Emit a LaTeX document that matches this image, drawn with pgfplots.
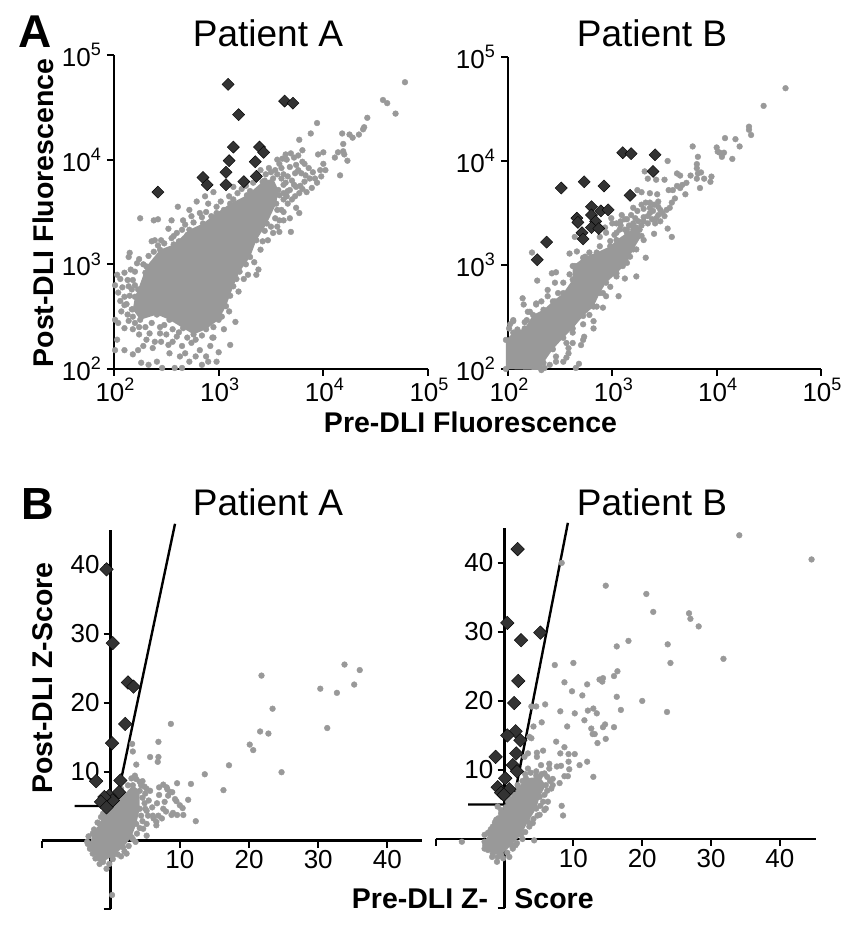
\documentclass[border=0pt]{standalone}
\usepackage{pgfplots}
\pgfplotsset{compat=1.18}
\usepackage{pgfplotstable}
\usepackage{fontspec}
\setmainfont{Liberation Sans}
\definecolor{ptgray}{HTML}{999999}
\definecolor{dia}{HTML}{333333}
\newcommand\ex[1]{10\raisebox{0.42em}{\fontsize{18}{18}\selectfont #1}}
\pgfplotstableread[row sep=\\]{x y\\
2.23 2.76\\ 2.31 2.98\\ 2.44 3.14\\ 2.57 3.19\\ 2.72 3.33\\ 2.85 3.39\\ 2.98 3.49\\ 3.11 3.58\\ 3.27 3.66\\ 3.42 3.79\\ 3.52 3.82\\ 3.57 3.71\\ 3.55 3.58\\ 3.46 3.39\\ 3.36 3.23\\ 3.30 3.07\\ 3.20 2.93\\ 3.14 2.79\\ 3.07 2.60\\ 3.00 2.47\\ 2.88 2.38\\ 2.76 2.33\\ 2.66 2.39\\ 2.53 2.47\\ 2.41 2.52\\ 2.25 2.47\\ 2.18 2.57\\ 2.20 2.69\\
}\coreAA
\pgfplotstableread[row sep=\\]{x y\\
4.78 4.74\\ 4.57 4.57\\ 4.61 4.54\\ 4.69 4.44\\ 4.42 4.40\\ 4.39 4.31\\ 4.38 4.29\\ 4.34 4.24\\ 4.25 4.24\\ 4.28 4.21\\ 4.18 4.25\\ 4.19 4.15\\ 4.19 4.08\\ 4.14 4.07\\ 4.20 4.05\\ 4.23 3.99\\ 4.11 4.02\\ 4.16 3.85\\ 4.00 4.07\\ 3.95 4.05\\ 4.00 3.96\\ 3.97 3.90\\ 4.02 3.90\\ 3.98 3.84\\ 3.94 4.35\\ 3.88 4.25\\ 3.77 4.19\\ 3.80 4.09\\ 3.76 4.04\\ 3.69 4.06\\ 3.61 4.01\\ 3.56 4.00\\ 3.65 4.00\\ 3.82 3.96\\ 3.74 3.95\\ 3.68 3.93\\ 3.60 3.92\\ 3.54 3.90\\ 3.73 3.87\\ 3.79 3.87\\ 3.87 3.82\\ 3.92 3.82\\ 3.82 3.79\\ 3.74 3.74\\ 3.89 3.73\\ 3.68 3.71\\ 3.84 3.69\\ 3.77 3.68\\ 3.73 3.65\\ 3.65 3.65\\ 3.74 3.54\\ 3.77 3.49\\ 3.60 3.52\\ 3.68 3.44\\ 3.62 3.42\\ 3.69 3.31\\ 3.58 3.31\\ 3.52 3.30\\ 3.47 3.23\\ 3.38 2.95\\ 3.28 2.90\\ 3.36 2.90\\ 3.16 2.45\\ 3.11 2.23\\ 3.00 2.16\\ 2.98 2.07\\
2.25 3.44\\ 2.38 3.42\\ 2.42 3.43\\ 2.55 3.42\\ 2.61 3.55\\ 2.72 3.52\\ 2.79 3.60\\ 2.87 3.65\\ 2.95 3.69\\ 3.14 3.74\\ 2.14 3.07\\ 2.15 3.11\\ 2.36 3.22\\ 2.39 3.23\\ 2.45 3.23\\ 2.52 3.34\\ 2.57 3.27\\ 2.66 3.42\\ 2.65 3.33\\ 2.74 3.46\\ 2.82 3.49\\ 2.90 3.58\\
2.03 2.90\\ 2.01 2.80\\ 2.10 2.92\\ 2.04 2.73\\ 2.01 2.47\\ 2.04 2.44\\ 2.10 2.39\\ 2.18 2.38\\ 2.03 2.28\\ 2.01 2.18\\ 2.10 2.18\\ 2.18 2.14\\ 2.23 2.18\\ 2.28 2.22\\ 2.26 2.06\\ 2.33 2.04\\ 2.46 2.01\\ 2.58 2.01\\ 2.65 2.01\\ 2.41 2.07\\ 2.53 2.15\\ 2.63 2.12\\ 2.72 2.07\\ 2.84 2.04\\ 2.90 2.07\\ 2.82 2.18\\ 2.92 2.22\\ 2.74 2.25\\ 2.65 2.22\\ 2.52 2.23\\ 2.39 2.26\\ 2.31 2.28\\ 2.44 2.34\\ 2.60 2.31\\ 2.10 2.69\\ 2.22 3.01\\ 2.20 2.93\\ 2.28 3.00\\ 2.18 2.85\\ 2.14 2.79\\ 2.06 2.65\\ 2.10 2.61\\ 2.18 2.50\\ 2.17 2.57\\
2.16 2.95\\ 2.24 3.05\\ 2.30 2.92\\ 2.33 3.08\\ 2.38 3.12\\ 2.42 3.18\\ 2.48 3.20\\ 2.50 3.10\\ 2.55 3.25\\ 2.60 3.30\\ 2.62 3.22\\ 2.68 3.38\\ 2.70 3.28\\ 2.76 3.40\\ 2.78 3.32\\ 2.84 3.45\\ 2.88 3.50\\ 2.93 3.46\\ 2.98 3.55\\ 3.02 3.60\\ 3.05 3.52\\ 3.10 3.65\\ 3.14 3.62\\ 3.18 3.68\\ 3.22 3.72\\ 3.26 3.75\\ 3.30 3.70\\ 3.33 3.78\\ 3.38 3.84\\ 3.45 3.86\\ 3.50 3.88\\ 3.56 3.86\\ 3.60 3.82\\ 3.62 3.76\\ 3.58 3.66\\ 3.62 3.62\\ 3.56 3.52\\ 3.54 3.44\\ 3.50 3.36\\ 3.44 3.32\\ 3.42 3.22\\ 3.40 3.14\\ 3.34 3.02\\ 3.26 3.00\\ 3.24 2.86\\ 3.17 2.86\\ 3.19 2.74\\ 3.11 2.70\\ 3.10 2.55\\ 3.03 2.50\\ 3.05 2.38\\ 2.95 2.40\\ 2.94 2.30\\ 2.84 2.32\\ 2.78 2.28\\ 2.70 2.30\\ 2.62 2.35\\ 2.56 2.38\\ 2.48 2.42\\ 2.44 2.40\\ 2.36 2.44\\ 2.30 2.40\\ 2.24 2.40\\ 2.20 2.44\\ 2.13 2.52\\ 2.12 2.62\\ 2.15 2.70\\ 2.17 2.76\\ 2.13 2.85\\ 2.20 2.80\\ 2.06 2.86\\ 2.08 2.78\\ 2.07 2.55\\ 2.14 2.46\\ 2.24 2.33\\ 2.34 2.34\\ 2.37 2.20\\ 2.45 2.26\\ 2.50 2.33\\ 2.56 2.26\\ 2.68 2.15\\ 2.78 2.12\\ 2.88 2.12\\ 2.95 2.30\\
3.40 3.90\\ 3.44 3.80\\ 3.48 3.92\\ 3.58 3.96\\ 3.62 3.86\\ 3.66 3.84\\ 3.64 3.78\\ 3.70 3.80\\ 3.72 3.76\\ 3.66 3.70\\ 3.62 3.68\\ 3.70 3.62\\ 3.66 3.58\\ 3.62 3.50\\ 3.58 3.42\\ 3.56 3.36\\ 3.78 3.75\\ 3.80 3.72\\ 3.76 3.90\\ 3.83 3.85\\ 3.86 3.92\\ 3.90 3.88\\ 3.94 3.78\\ 3.80 3.98\\ 3.72 4.02\\ 3.64 4.05\\
}\grayAA
\pgfplotstableread[row sep=\\]{x y\\
2.42 3.69\\ 2.85 3.83\\ 2.89 3.76\\ 3.07 3.76\\ 3.07 3.88\\ 3.10 3.99\\ 3.14 4.12\\ 3.09 4.72\\ 3.19 4.43\\ 3.24 3.79\\ 3.36 3.84\\ 3.35 3.98\\ 3.39 4.12\\ 3.43 4.07\\ 3.63 4.56\\ 3.71 4.54\\
}\diaAA
\pgfplotstableread[row sep=\\]{x y\\
1.98 2.00\\ 1.98 2.28\\ 2.05 2.35\\ 2.16 2.39\\ 2.24 2.52\\ 2.34 2.57\\ 2.43 2.65\\ 2.53 2.73\\ 2.62 2.86\\ 2.62 2.99\\ 2.74 3.08\\ 2.85 3.12\\ 2.98 3.18\\ 3.04 3.24\\ 3.14 3.31\\ 3.23 3.36\\ 3.28 3.28\\ 3.20 3.15\\ 3.14 3.02\\ 3.04 2.92\\ 2.94 2.83\\ 2.88 2.73\\ 2.82 2.60\\ 2.72 2.51\\ 2.62 2.39\\ 2.53 2.30\\ 2.43 2.19\\ 2.34 2.06\\ 2.32 1.99\\
}\coreAB
\pgfplotstableread[row sep=\\]{x y\\
4.66 4.70\\ 4.45 4.53\\ 4.31 4.33\\ 4.31 4.30\\ 4.33 4.25\\ 4.08 4.22\\ 4.18 4.21\\ 4.22 4.14\\ 4.00 4.13\\ 4.01 4.09\\ 4.03 4.08\\ 4.07 4.08\\ 4.05 4.04\\ 4.15 4.02\\ 3.77 4.14\\ 3.82 4.04\\ 3.81 3.97\\ 3.81 3.93\\ 3.82 3.88\\ 3.85 3.89\\ 3.95 3.85\\ 3.94 3.80\\ 3.88 3.83\\ 3.81 3.83\\ 3.84 3.74\\ 3.53 4.00\\ 3.31 3.90\\ 3.34 3.83\\ 3.42 3.82\\ 3.50 3.82\\ 3.62 3.88\\ 3.65 3.86\\ 3.75 3.86\\ 3.71 3.79\\ 3.67 3.77\\ 3.62 3.76\\ 3.54 3.72\\ 3.58 3.72\\ 3.65 3.74\\ 3.70 3.68\\ 3.60 3.64\\ 3.57 3.60\\ 3.24 3.72\\ 3.28 3.70\\ 3.36 3.69\\ 3.43 3.68\\ 3.36 3.60\\ 3.44 3.61\\ 3.20 3.55\\ 3.30 3.54\\ 3.09 3.48\\ 3.55 3.55\\ 3.52 3.53\\ 3.46 3.53\\ 3.39 3.52\\ 3.36 3.50\\ 3.34 3.47\\ 3.42 3.45\\ 3.50 3.47\\ 3.41 3.40\\ 3.30 3.42\\ 3.22 3.45\\ 3.14 3.44\\ 2.99 3.45\\ 3.00 3.40\\ 3.53 3.35\\ 3.57 3.27\\ 3.40 3.30\\ 3.20 3.34\\ 3.26 3.34\\ 3.14 3.34\\ 2.93 3.36\\ 2.94 3.31\\ 3.02 3.29\\ 3.07 3.34\\ 2.64 3.27\\ 2.88 3.27\\ 3.32 3.07\\ 3.23 2.89\\ 3.12 2.87\\ 3.06 2.70\\ 2.85 3.08\\ 2.66 3.13\\ 2.59 3.11\\ 2.23 3.12\\ 2.28 2.85\\ 2.42 2.92\\ 2.46 2.93\\ 2.45 2.83\\ 2.38 2.76\\ 2.14 2.68\\ 2.15 2.62\\ 2.19 2.55\\ 2.27 2.63\\ 2.05 2.46\\ 2.01 2.39\\ 2.16 2.45\\ 2.94 2.70\\ 2.91 2.59\\ 2.82 2.46\\ 2.82 2.39\\ 2.73 2.31\\ 2.72 2.28\\ 2.70 2.23\\ 2.62 2.25\\ 2.58 2.20\\ 2.58 2.15\\ 2.56 2.11\\ 2.68 2.05\\ 2.65 2.01\\ 2.53 2.07\\ 2.46 2.07\\
2.02 2.43\\ 2.05 2.47\\ 2.09 2.38\\ 2.13 2.35\\ 2.18 2.47\\ 2.21 2.55\\ 2.27 2.62\\ 2.32 2.65\\ 2.38 2.70\\ 2.45 2.65\\ 2.48 2.73\\ 2.53 2.83\\ 2.59 2.91\\ 2.64 2.99\\ 2.72 3.07\\ 2.78 3.12\\ 2.88 3.18\\ 2.98 3.23\\ 3.04 3.31\\ 3.12 3.34\\ 3.20 3.37\\ 3.26 3.34\\ 3.30 3.24\\ 3.23 3.15\\ 3.17 3.08\\ 3.10 2.99\\ 3.04 2.89\\ 2.98 2.79\\ 2.91 2.73\\ 2.85 2.60\\ 2.78 2.52\\ 2.72 2.43\\ 2.62 2.35\\ 2.56 2.25\\ 2.46 2.12\\ 2.40 2.04\\ 2.35 2.01\\ 3.20 3.40\\ 3.25 3.42\\ 3.30 3.46\\ 3.34 3.40\\ 3.38 3.44\\ 3.44 3.48\\ 3.46 3.42\\ 3.48 3.50\\ 3.44 3.56\\ 3.40 3.58\\ 3.36 3.55\\ 3.32 3.60\\ 3.28 3.58\\ 3.24 3.52\\ 3.18 3.48\\ 3.12 3.44\\ 3.08 3.38\\ 3.04 3.40\\ 3.08 3.42\\ 3.16 3.38\\ 3.28 3.38\\
}\grayAB
\pgfplotstableread[row sep=\\]{x y\\
2.28 3.05\\ 2.37 3.22\\ 2.51 3.74\\ 2.73 3.80\\ 2.92 3.76\\ 2.66 3.45\\ 2.67 3.41\\ 2.80 3.56\\ 2.80 3.48\\ 2.89 3.52\\ 2.96 3.53\\ 2.84 3.42\\ 2.80 3.36\\ 2.87 3.35\\ 2.71 3.31\\ 2.72 3.25\\ 3.10 4.08\\ 3.18 4.07\\ 3.41 4.06\\ 3.39 3.90\\ 3.17 3.67\\
}\diaAB
\pgfplotstableread[row sep=\\]{x y\\
-2.6 1.0\\ -1.6 2.4\\ -1.1 3.9\\ 0.3 5.3\\ 1.8 6.5\\ 3.2 8.0\\ 4.2 7.2\\ 4.2 4.6\\ 3.7 2.4\\ 3.0 0.5\\ 1.8 -1.0\\ 0.3 -2.2\\ -1.1 -3.1\\ -2.6 -1.9\\ -3.0 -0.5\\
}\coreBA
\pgfplotstableread[row sep=\\]{x y\\
33.8 25.5\\ 36.0 24.7\\ 35.2 22.6\\ 30.3 22.0\\ 32.7 21.4\\ 31.3 16.3\\ 21.8 23.9\\ 23.4 19.1\\ 21.6 15.8\\ 22.8 15.5\\ 20.1 13.9\\ 20.6 13.1\\ 24.7 9.9\\ 17.1 10.9\\ 16.3 7.3\\ 13.6 9.6\\ 8.7 16.9\\ 6.9 14.3\\ 6.9 12.1\\ 6.8 11.4\\ 5.7 12.1\\ 3.1 14.0\\ 3.2 12.9\\ 3.7 11.0\\ 3.5 9.4\\ 11.6 8.2\\ 9.6 8.3\\ 7.6 8.1\\ 7.0 7.7\\ 8.1 7.7\\ 8.6 7.0\\ 8.3 6.5\\ 11.2 5.9\\ 9.5 5.7\\ 10.0 5.1\\ 10.4 4.7\\ 6.7 5.4\\ 7.8 5.6\\ 7.6 4.6\\ 8.8 3.7\\ 9.6 3.7\\ 10.5 3.7\\ 9.0 4.0\\ 12.3 2.8\\ 5.2 4.3\\ 5.4 3.6\\ 6.1 3.6\\ 6.9 3.6\\ 6.6 2.7\\ 6.6 2.2\\ 5.2 2.4\\ 4.7 1.7\\ 5.2 0.7\\ 3.6 -0.2\\ 2.3 -1.9\\ 1.5 -2.3\\ 0.3 -2.7\\ -0.6 -4.1\\ 0.2 -7.9\\ -1.6 -3.4\\ -3.3 -0.5\\ 5.2 7.5\\ 4.4 8.0\\ 5.7 7.2\\ 3.7 8.9\\ 4.2 8.5\\
3.0 9.0\\ 2.5 8.0\\ 1.5 7.5\\ 4.6 8.6\\ 4.9 7.8\\ 5.0 6.8\\ 4.6 6.2\\ 4.9 5.4\\ 5.0 4.6\\ 4.4 3.6\\ 4.6 2.8\\ 4.2 1.8\\ 3.8 1.0\\ 3.2 0.2\\ 2.6 -0.8\\ 2.0 -1.6\\ 1.0 -2.0\\ -0.2 -3.4\\ -1.6 -2.6\\ -2.2 -2.6\\ -3.0 -1.2\\ -3.4 -0.2\\ -3.2 0.6\\ -2.4 1.6\\ -1.9 2.6\\ -1.4 3.4\\ -0.8 4.4\\ -0.2 5.2\\ 0.5 6.0\\ 1.0 6.4\\ 5.5 5.8\\ 6.0 4.8\\ 6.2 3.2\\ 7.4 3.2\\ 8.0 4.2\\ 7.0 6.6\\ 8.9 7.0\\ 8.2 7.4\\ 9.3 6.0\\
}\grayBA
\pgfplotstableread[row sep=\\]{x y\\
-0.6 39.3\\ 0.3 28.6\\ 2.5 22.9\\ 3.3 22.3\\ 2.1 16.9\\ 0.2 14.1\\ -2.1 8.6\\ 1.4 8.7\\ 1.2 7.0\\ -0.2 6.5\\ 0.3 5.8\\ -0.9 6.3\\ -1.4 5.6\\ -0.6 4.8\\
}\diaBA
\pgfplotstableread[row sep=\\]{x y\\
-2.9 -0.4\\ -1.7 1.8\\ -0.5 3.7\\ 0.5 5.4\\ 1.9 7.3\\ 3.1 8.8\\ 5.1 9.0\\ 6.0 7.8\\ 5.1 6.1\\ 4.6 4.4\\ 3.4 2.5\\ 2.4 0.6\\ 1.0 -0.9\\ -0.5 -2.3\\ -1.7 -2.1\\ -2.9 -1.4\\
}\coreBB
\pgfplotstableread[row sep=\\]{x y\\
34.1 44.0\\ 44.6 40.5\\ 8.3 40.0\\ 14.7 36.7\\ 20.6 35.5\\ 21.6 32.9\\ 26.8 32.7\\ 27.0 31.9\\ 28.2 30.8\\ 18.0 28.7\\ 23.7 28.2\\ 16.3 27.9\\ 31.8 26.1\\ 24.1 25.5\\ 10.0 25.5\\ 7.3 25.2\\ 16.4 24.3\\ 15.9 23.6\\ 14.3 23.3\\ 13.8 23.1\\ 14.2 22.8\\ 8.7 22.7\\ 12.0 22.4\\ 9.8 21.4\\ 11.3 20.8\\ 16.3 20.6\\ 20.0 20.0\\ 5.9 19.5\\ 4.6 19.2\\ 3.9 19.2\\ 8.1 18.5\\ 12.1 18.6\\ 12.9 18.9\\ 13.4 18.2\\ 16.9 18.7\\ 23.6 18.4\\ 10.2 18.2\\ 11.6 17.2\\ 5.4 16.9\\ 4.2 16.3\\ 9.1 16.3\\ 12.6 16.0\\ 14.3 16.2\\ 14.6 16.6\\ 15.9 16.2\\ 12.8 15.2\\ 13.1 15.2\\ 14.7 14.5\\ 13.5 13.9\\ 7.5 14.1\\ 8.7 13.3\\ 3.6 14.8\\ 3.9 14.6\\ 5.6 12.8\\ 4.7 12.5\\ 4.7 11.9\\ 3.4 12.4\\ 2.9 11.9\\ 8.1 12.4\\ 9.3 12.3\\ 10.2 12.3\\ 12.0 11.2\\ 10.9 10.7\\ 9.3 11.2\\ 8.2 10.6\\ 7.6 10.5\\ 6.5 10.9\\ 5.3 10.7\\ 9.4 10.1\\ 8.7 9.1\\ 9.2 9.1\\ 12.9 9.0\\ 6.5 10.2\\ 8.0 8.1\\ 7.0 8.7\\ 6.8 7.3\\ 5.8 9.5\\ 4.6 9.8\\ 3.4 10.2\\ 8.3 4.8\\ 8.5 3.4\\ 6.3 5.4\\ 6.0 4.4\\ 5.8 4.2\\ 5.1 3.5\\ 4.1 2.3\\ 4.3 -0.2\\ -6.2 -0.4\\ -1.1 -3.3\\ 0.7 -2.6\\ 1.6 -0.9\\ -2.9 0.6\\ -1.0 4.7\\ -1.2 2.8\\
-2.8 -0.9\\ -2.4 0.9\\ -2.0 1.4\\ -1.4 2.4\\ -0.9 3.0\\ -0.5 4.2\\ 0.2 4.6\\ 0.8 5.8\\ 1.4 6.4\\ 1.9 7.8\\ 2.6 8.4\\ 3.0 9.4\\ 3.8 9.6\\ 4.6 9.2\\ 5.4 9.4\\ 6.2 9.0\\ 6.6 8.4\\ 7.0 7.8\\ 6.2 7.0\\ 5.8 6.4\\ 5.6 5.4\\ 5.2 4.8\\ 4.8 3.4\\ 4.2 2.9\\ 3.6 1.8\\ 3.0 1.0\\ 2.6 0.0\\ 1.8 -0.6\\ 1.2 -1.4\\ 0.4 -2.0\\ -0.2 -2.8\\ -1.0 -2.6\\ -1.8 -2.6\\ -2.4 -1.6\\
}\grayBB
\pgfplotstableread[row sep=\\]{x y\\
1.9 42.0\\ 0.4 31.3\\ 2.4 28.8\\ 5.2 29.9\\ 2.0 22.9\\ 1.4 19.7\\ 1.6 15.6\\ 0.4 15.0\\ 2.3 14.3\\ -1.3 11.9\\ 1.7 12.4\\ 1.2 10.7\\ 1.8 9.8\\ 0.1 8.8\\ -1.0 7.5\\ -0.5 6.7\\ 0.1 6.6\\ 0.7 7.2\\ -0.1 6.4\\
}\diaBB
\pgfplotsset{
  base/.style={scale only axis,clip=false,
    tick style={black,line width=2pt},major tick length=7pt,
    x tick label style={inner sep=2pt},y tick label style={inner sep=2pt}},
  fl/.style={base,axis lines=left,tick align=outside,axis line style={-,line width=2.4pt,black},xmin=2,xmax=5,ymin=2,ymax=5,
    tick label style={font=\fontsize{26}{26}\selectfont},
    xtick={2,3,4,5},ytick={2,3,4,5},
    x tick label style={xshift=1pt},y tick label style={xshift=-4pt},
    xticklabels={\ex{2},\ex{3},\ex{4},\ex{5}},yticklabels={\ex{2},\ex{3},\ex{4},\ex{5}}},
  zs/.style={base,axis lines=middle,tick align=outside,axis line style={-,line width=2.4pt,black},xmin=-10,ymin=-10,
    tick label style={font=\fontsize{26}{26}\selectfont},
    xtick={-10,10,20,30,40},ytick={-10,10,20,30,40},
    xticklabels={,10,20,30,40},
    x tick label style={yshift=-1pt},y tick label style={xshift=-2pt}},
  gp/.style={only marks,mark=*,mark size=2.9pt,color=ptgray,mark options={draw=ptgray,fill=ptgray}},
  cr/.style={fill=ptgray,draw=none,mark=none},
  dm/.style={only marks,mark=square*,mark size=#1,color=dia,mark options={rotate=45,fill=dia,draw=black,line width=0.4pt}},
  th/.style={black,line width=2.4pt,mark=none},
}
\begin{document}
\begin{tikzpicture}
\path[use as bounding box] (0pt,0pt) rectangle (863pt,938pt);
% Panel A left
\begin{axis}[fl,at={(114pt,569pt)},anchor=south west,width=314pt,height=314pt]
\addplot[cr] table {\coreAA} -- cycle;
\addplot[gp] table {\coreAA};
\addplot[gp] table {\grayAA};
\addplot[dm=4.3pt] table {\diaAA};
\end{axis}
% Panel A right
\begin{axis}[fl,at={(508pt,569pt)},anchor=south west,width=313pt,height=312pt]
\addplot[cr] table {\coreAB} -- cycle;
\addplot[gp] table {\coreAB};
\addplot[gp] table {\grayAB};
\addplot[dm=4.3pt] table {\diaAB};
\end{axis}
% Panel B left
\begin{axis}[zs,at={(41.5pt,28.5pt)},anchor=south west,width=380.5pt,height=379.5pt,xmax=45,ymax=45,
  yticklabels={,10,20,30,\raisebox{-5pt}{40}}]
\addplot[th] coordinates {(-5.2,5) (0.7,5) (9.3,45.9)};
\addplot[cr] table {\coreBA} -- cycle;
\addplot[gp] table {\coreBA};
\addplot[gp] table {\grayBA};
\addplot[dm=4.8pt] table {\diaBA};
\end{axis}
% Panel B right
\begin{axis}[zs,at={(435.7pt,30pt)},anchor=south west,width=380pt,height=380.3pt,xmax=45.2,ymax=45.1,
  yticklabels={,10,20,30,40}]
\addplot[th] coordinates {(-5.3,5) (1.2,5) (9.2,45.8)};
\addplot[cr] table {\coreBB} -- cycle;
\addplot[gp] table {\coreBB};
\addplot[gp] table {\grayBB};
\addplot[dm=4.8pt] table {\diaBB};
\end{axis}
% Text
\def\ttl{\fontsize{37}{37}\selectfont}
\def\lab{\fontsize{28.5}{29}\selectfont\bfseries}
\node[anchor=base,font=\ttl] at (268pt,891pt) {Patient A};
\node[anchor=base,font=\ttl] at (652pt,891pt) {Patient B};
\node[anchor=base,font=\ttl] at (268pt,422pt) {Patient A};
\node[anchor=base,font=\ttl] at (652pt,422pt) {Patient B};
\node[anchor=base,font=\fontsize{46}{46}\selectfont\bfseries] at (35.5pt,890pt) {A};
\node[anchor=base,font=\fontsize{45}{45}\selectfont\bfseries] at (38pt,418pt) {B};
\node[anchor=center,rotate=90,font=\lab] at (43pt,725pt) {Post-DLI Fluorescence};
\node[anchor=base,font=\lab] at (470.5pt,505pt) {Pre-DLI Fluorescence};
\node[anchor=center,rotate=90,font=\lab] at (43pt,260pt) {Post-DLI Z-Score};
\node[anchor=base,font=\lab] at (420pt,29pt) {Pre-DLI Z-};
\node[anchor=base,font=\lab] at (554pt,29pt) {Score};
\end{tikzpicture}
\end{document}
